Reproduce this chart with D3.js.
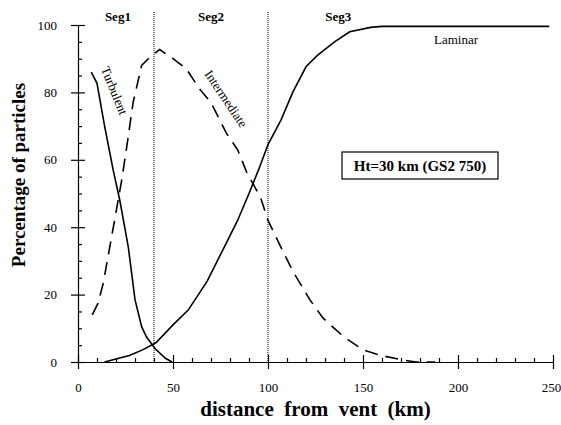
<!DOCTYPE html>
<html lang="en">
<head>
  <meta charset="UTF-8" />
  <title>Particle regimes vs distance</title>
  <script src="https://d3js.org/d3.v7.min.js"></script>
  <style>
    body { margin: 0; background: #fff; }
    svg { display: block; font-family: "Liberation Serif", "Times New Roman", serif; }
    .domain { stroke: #000; stroke-width: 1.2px; }
    .tick line { stroke: #000; stroke-width: 1.2px; }
    .tick text { font-size: 13px; fill: #000; font-family: "Liberation Serif", serif; }
  </style>
</head>
<body>
  <svg width="561" height="425"></svg>
  <script>
    // distance (km), percentage
    const turbulent = [[7,86],[10,82.7],[14,70],[18.5,57],[22,48],[26.5,34],[30,18.5],[33.5,10.5],[36,7.5],[40.5,4],[46,1.1],[49.5,0]];
    const intermediate = [[7.5,14],[10.5,17.4],[13.3,23.4],[17,35],[20.5,46],[23,54],[25.7,64],[29,77],[33.5,88],[38.8,91],[43,92.7],[50,90],[57,87],[64,81],[70,77],[78,68],[84,63],[89,56],[96,49],[100,42],[106,35],[113,27],[122,18.5],[129,13],[140,7.4],[150,3.6],[159,2],[171,0.6],[178,0],[188,0]];
    const laminar = [[14,0],[20,0.9],[27,1.9],[34,3.6],[41,5.7],[50,11],[58,15.4],[68,24],[76,33],[84,42],[90,50],[95,57],[100,64.5],[107,72],[113,80],[120,87.6],[126,91],[135,95],[143,98],[154,99.3],[160,99.6],[248,99.6]];
    const segBounds = [40, 100];
    const segLabels = [["Seg1", 21], ["Seg2", 70], ["Seg3", 137]];
    const xMajor = [0, 50, 100, 150, 200, 250];
    const yMajor = [0, 20, 40, 60, 80, 100];

    const svg = d3.select("svg");
    const x = d3.scaleLinear().domain([0, 250]).range([78, 553]);
    const y = d3.scaleLinear().domain([0, 100]).range([362, 25]);

    // x axis: major ticks crossing, minor ticks inside
    svg.append("g")
      .attr("transform", `translate(0,${y(0)})`)
      .call(d3.axisBottom(x).tickValues(d3.range(0, 251, 10).filter(v => v % 50)).tickSize(-4).tickFormat(""))
      .call(g => g.select(".domain").remove());
    const xg = svg.append("g")
      .attr("transform", `translate(0,${y(0)})`)
      .call(d3.axisBottom(x).tickValues(xMajor).tickSize(7).tickSizeOuter(0).tickPadding(14));
    xg.selectAll(".tick line").attr("y1", -7);
    xg.selectAll(".tick text").filter(d => d === 250).attr("dx", -2);

    // y axis
    svg.append("g")
      .attr("transform", `translate(${x(0)},0)`)
      .call(d3.axisLeft(y).tickValues(d3.range(0, 101, 5).filter(v => v % 20)).tickSize(-4).tickFormat(""))
      .call(g => g.select(".domain").remove());
    const yg = svg.append("g")
      .attr("transform", `translate(${x(0)},0)`)
      .call(d3.axisLeft(y).tickValues(yMajor).tickSize(7).tickSizeOuter(0).tickPadding(14));
    yg.selectAll(".tick line").attr("x1", 7);

    // segment boundaries
    svg.selectAll("line.seg")
      .data(segBounds)
      .enter().append("line")
      .attr("class", "seg")
      .attr("x1", d => x(d)).attr("x2", d => x(d))
      .attr("y1", 12).attr("y2", y(0))
      .attr("stroke", "#000").attr("stroke-width", 1)
      .attr("stroke-dasharray", "1,1");

    svg.selectAll("text.seglab")
      .data(segLabels)
      .enter().append("text")
      .attr("class", "seglab")
      .attr("x", d => x(d[1])).attr("y", 21)
      .attr("text-anchor", "middle")
      .attr("font-weight", "bold").attr("font-size", 13)
      .text(d => d[0]);

    const line = d3.line().x(d => x(d[0])).y(d => y(d[1]));

    svg.append("path").datum(turbulent)
      .attr("d", line).attr("fill", "none").attr("stroke", "#000").attr("stroke-width", 1.6);
    svg.append("path").datum(laminar)
      .attr("d", line).attr("fill", "none").attr("stroke", "#000").attr("stroke-width", 1.6);
    svg.append("path").datum(intermediate)
      .attr("d", line).attr("fill", "none").attr("stroke", "#000").attr("stroke-width", 1.6)
      .attr("stroke-dasharray", "13,8");

    // curve labels
    svg.append("text")
      .attr("transform", `translate(${x(12)},${y(87)}) rotate(68)`)
      .attr("font-size", 13).text("Turbulent");
    svg.append("text")
      .attr("transform", `translate(204,74) rotate(56)`)
      .attr("font-size", 13).text("Intermediate");
    svg.append("text")
      .attr("x", 456).attr("y", 44)
      .attr("text-anchor", "middle")
      .attr("font-size", 13).text("Laminar");

    // info box
    svg.append("rect")
      .attr("x", 342).attr("y", 152).attr("width", 156).attr("height", 27)
      .attr("fill", "#fff").attr("stroke", "#000").attr("stroke-width", 1.2);
    svg.append("text")
      .attr("x", 420).attr("y", 171)
      .attr("text-anchor", "middle")
      .attr("font-weight", "bold").attr("font-size", 15)
      .text("Ht=30 km (GS2 750)");

    // axis titles
    svg.append("text")
      .attr("transform", `translate(${x(125)},416)`)
      .attr("text-anchor", "middle")
      .attr("font-weight", "bold").attr("font-size", 21)
      .style("white-space", "pre")
      .text("distance  from  vent  (km)");
    svg.append("text")
      .attr("transform", `translate(25,175) rotate(-90)`)
      .attr("text-anchor", "middle")
      .attr("font-weight", "bold").attr("font-size", 19)
      .text("Percentage of particles");
  </script>
</body>
</html>
